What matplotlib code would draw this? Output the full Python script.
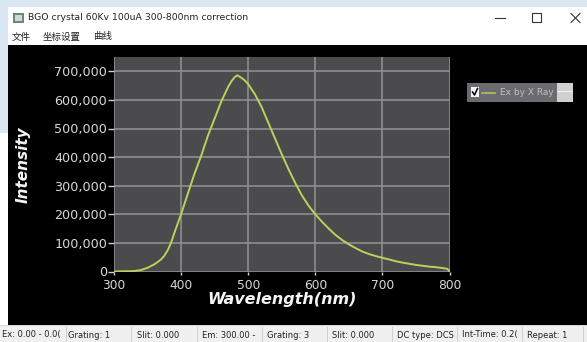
import matplotlib
matplotlib.use("Agg")
import matplotlib.pyplot as plt
from matplotlib.patches import Rectangle
from matplotlib.lines import Line2D
from matplotlib.ticker import FuncFormatter

# ---------------- data ----------------
wavelength = [300, 310, 320, 330, 340, 350, 360, 365, 370, 375, 380, 385, 390, 395,
              400, 410, 420, 430, 440, 450, 460, 470, 475, 480, 484, 490, 495, 500,
              510, 520, 530, 540, 550, 560, 570, 580, 590, 600, 610, 620, 630, 640,
              650, 660, 670, 680, 690, 700, 710, 720, 730, 740, 750, 760, 770, 780,
              790, 797, 800]
intensity = [0, 500, 800, 1500, 5000, 13000, 25000, 33000, 42000, 55000, 74000,
             100000, 135000, 168000, 200000, 272000, 342000, 405000, 475000, 535000,
             595000, 645000, 665000, 680000, 686000, 677000, 668000, 655000, 620000,
             575000, 520000, 465000, 410000, 358000, 310000, 266000, 230000, 200000,
             174000, 150000, 128000, 110000, 95000, 82000, 70000, 61000, 54000,
             48000, 42000, 36000, 31000, 27000, 23000, 20000, 17000, 15000, 12000,
             9000, 0]
x_ticks = [300, 400, 500, 600, 700, 800]
y_ticks = [0, 100000, 200000, 300000, 400000, 500000, 600000, 700000]
title_text = "BGO crystal 60Kv 100uA 300-800nm correction"
menu_items = ["文件", "坐标设置", "曲线"]
status_items = ["Ex: 0.00 - 0.0(", "Grating: 1", "Slit: 0.000", "Em: 300.00 -",
                "Grating: 3", "Slit: 0.000", "DC type: DCS", "Int-Time: 0.2(", "Repeat: 1"]
legend_label = "Ex by X Ray"

W, H = 587, 342
fig = plt.figure(figsize=(W / 100, H / 100), dpi=100)
fig.patch.set_facecolor("white")


def px(x, y):
    return x / W, 1 - y / H


def rect(x0, y0, x1, y1, color, z=-5, **kw):
    r = Rectangle((x0 / W, 1 - y1 / H), (x1 - x0) / W, (y1 - y0) / H,
                  transform=fig.transFigure, facecolor=color, edgecolor="none",
                  zorder=z, **kw)
    fig.patches.append(r)
    return r


# desktop strip and window chrome
rect(0, 0, W, 7, "#dbe8f4")
rect(0, 0, 8, 133, "#dbe8f4")
rect(8, 7, W, 45, "#ffffff")
rect(8, 45, W, 325, "#000000")
rect(0, 325, W, H, "#f0f0f0")
rect(0, 325, W, 326, "#d8d8d8", z=-4)

# icon
rect(13, 13, 24, 23, "#6a8a78", z=-4)
rect(15, 15, 22, 21, "#cfd8d2", z=-3)

fig.text(*px(28, 18), title_text, fontsize=6.7, color="#222222",
         va="center", ha="left", family="DejaVu Sans")
# window controls
fig.add_artist(Line2D([495 / W, 505 / W], [1 - 18 / H] * 2, color="#333333", lw=0.8))
rr = Rectangle((532 / W, 1 - 22 / H), 9 / W, 9 / H, transform=fig.transFigure,
               facecolor="none", edgecolor="#333333", lw=0.8)
fig.patches.append(rr)
fig.add_artist(Line2D([571 / W, 580 / W], [1 - 13.5 / H, 1 - 22.5 / H], color="#333333", lw=0.8))
fig.add_artist(Line2D([571 / W, 580 / W], [1 - 22.5 / H, 1 - 13.5 / H], color="#333333", lw=0.8))

menu_x = [12, 43, 93]
for mx, m in zip(menu_x, menu_items):
    fig.text(*px(mx, 37), m, fontsize=6.8, color="#222222", va="center", ha="left",
             family=["Noto Sans CJK SC", "DejaVu Sans"])

# status bar
panel_x = [2, 68, 137, 202, 267, 332, 397, 462, 527]
sep_x = [66, 131, 197, 262, 327, 392, 457, 522, 583]
for s in sep_x:
    rect(s, 327, s + 1, 342, "#d0d0d0", z=-3)
for sx, s in zip(panel_x, status_items):
    fig.text(*px(sx, 335), s, fontsize=6.0, color="#222222", va="center", ha="left",
             family="DejaVu Sans")

# ---------------- plot ----------------
ax_l, ax_r, ax_t, ax_b = 114, 449.5, 57, 271.5
ax = fig.add_axes([ax_l / W, 1 - ax_b / H, (ax_r - ax_l) / W, (ax_b - ax_t) / H])
ax.set_zorder(1)
ax.set_facecolor("#4b4b4e")
ax.plot(wavelength, intensity, color="#b7d35b", lw=1.4, zorder=3)
ax.set_xlim(300, 800)
ax.set_ylim(0, 750000)
ax.set_xticks(x_ticks)
ax.set_yticks(y_ticks)
ax.yaxis.set_major_formatter(FuncFormatter(lambda v, p: f"{int(v):,}"))
ax.grid(True, color="#8e8e8e", lw=1.2)
ax.set_axisbelow(True)
for sp in ax.spines.values():
    sp.set_visible(False)
ax.tick_params(axis="y", colors="#d0d0d0", labelcolor="#d8d8d8", labelsize=9.2,
               length=4, width=1, pad=1, direction="out")
ax.tick_params(axis="x", colors="#d0d0d0", labelcolor="#d8d8d8", labelsize=8.8,
               length=2, width=1, pad=3.5, direction="out")
ax.set_xlabel("Wavelength(nm)", fontsize=11.5, fontweight="bold", fontstyle="italic",
              color="#f4f4f4", labelpad=0)
ax.set_ylabel("Intensity", fontsize=11, fontweight="bold", fontstyle="italic",
              color="#f4f4f4")
ax.yaxis.set_label_coords((31 - ax_l) / (ax_r - ax_l), 0.5)

# legend box
rect(467, 83, 573, 102, "#6c6c70", z=4)
rect(557, 83, 573, 102, "#d0d0d0", z=5)
rect(557, 91, 573, 92, "#f0f0f0", z=6)
rect(471, 87, 479, 97, "#f4f4f4", z=5)
fig.add_artist(Line2D([472.5 / W, 474.5 / W, 477.5 / W],
                      [1 - 92 / H, 1 - 95 / H, 1 - 88.5 / H], color="#000000", lw=1.1, zorder=6))
fig.add_artist(Line2D([482 / W, 495 / W], [1 - 92.5 / H] * 2, color="#a8c85a", lw=1.2, zorder=6))
fig.text(*px(500, 92.5), legend_label, fontsize=6.5, color="#c0c0c4", va="center",
         ha="left", zorder=6, family="DejaVu Sans")

fig.savefig("out.png", dpi=100)
